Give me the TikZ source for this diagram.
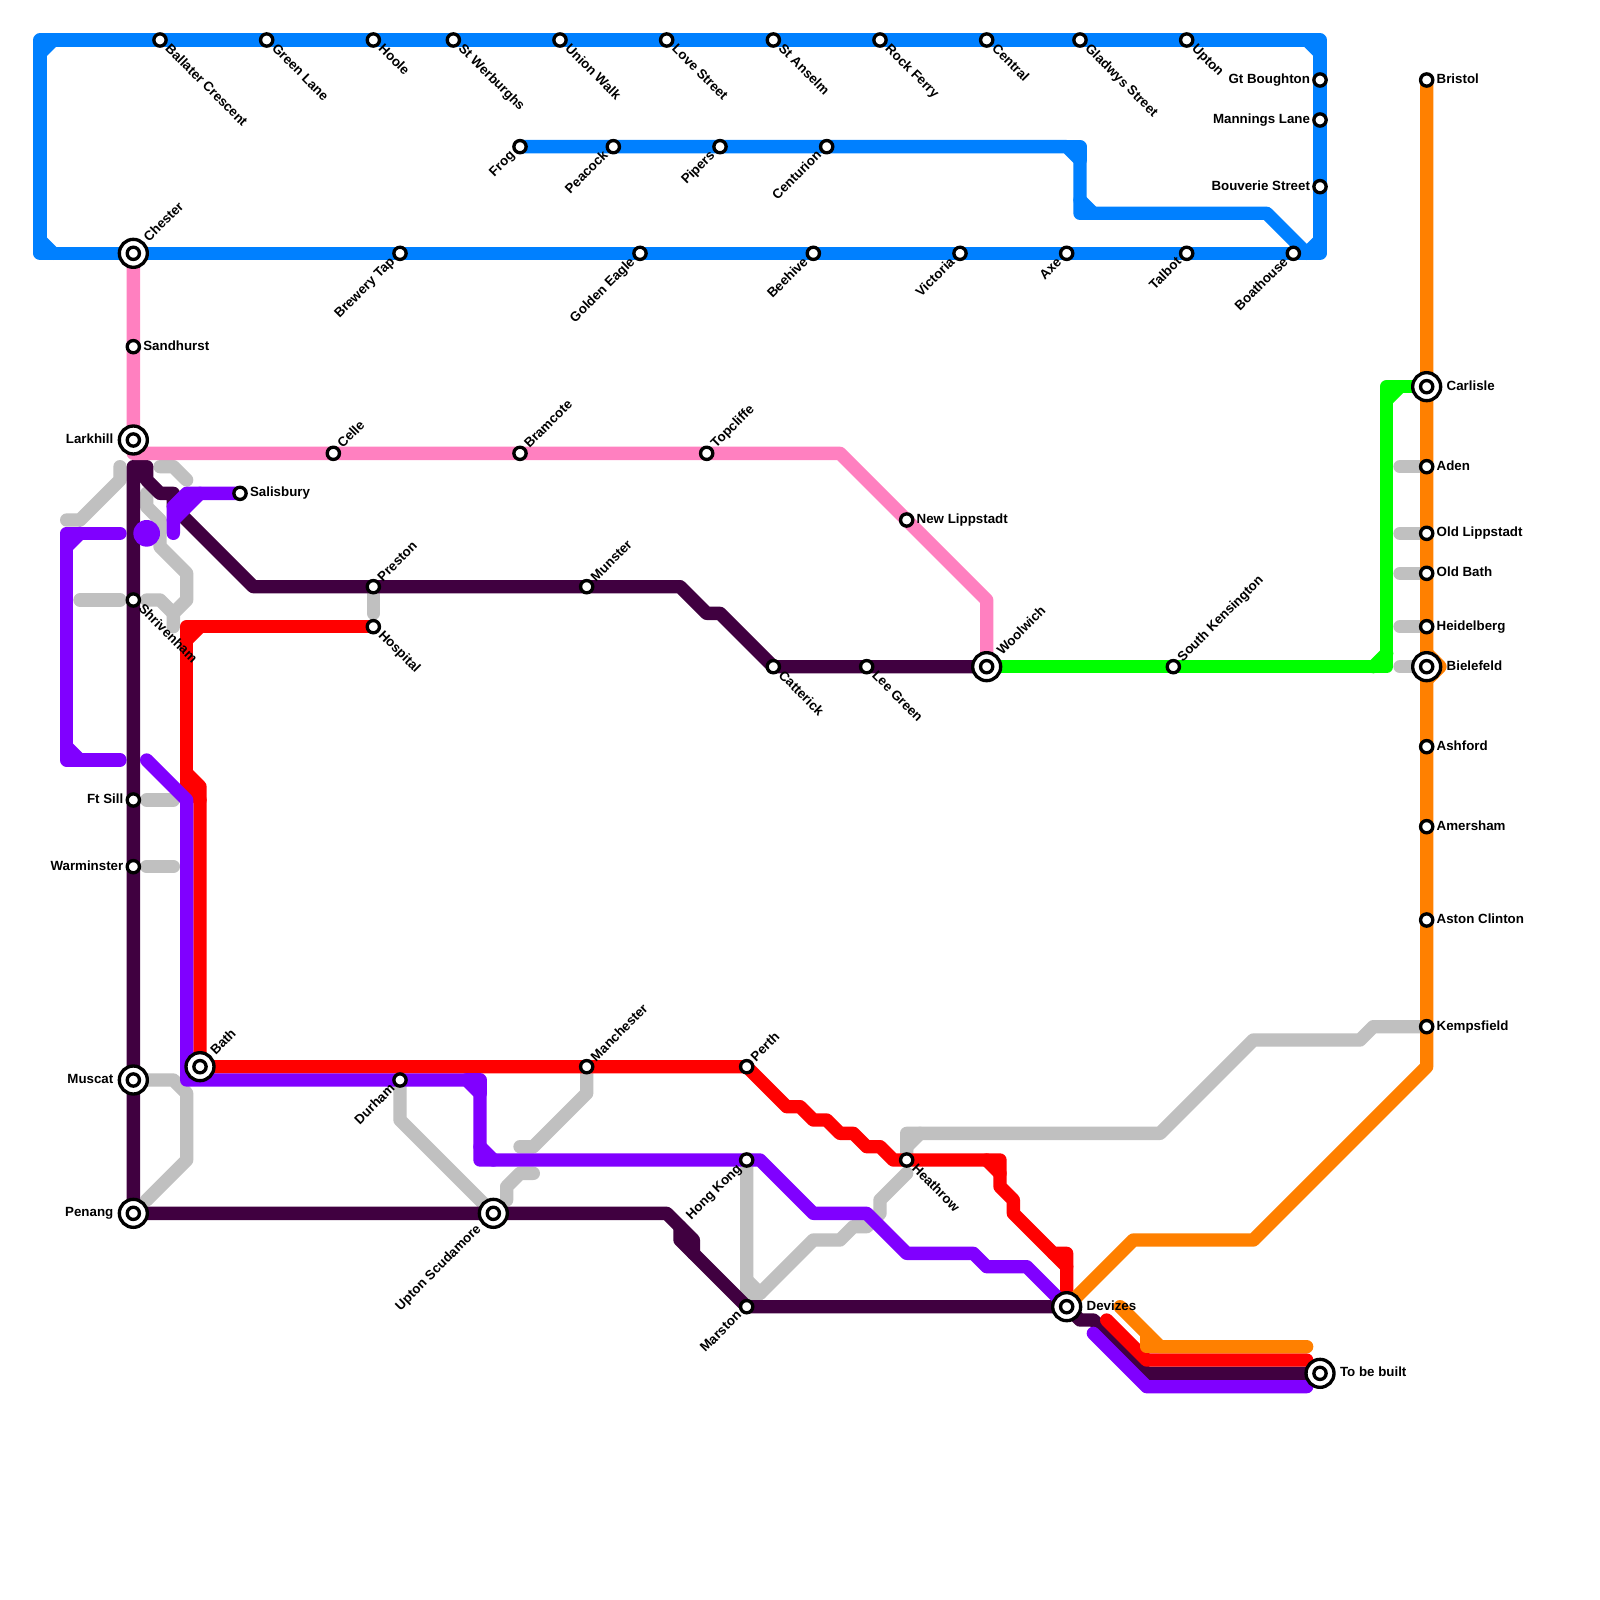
\documentclass[tikz,border=0pt]{standalone}
\usepackage{fontspec}
\setmainfont{Liberation Sans}
\usetikzlibrary{calc}
\definecolor{cblue}{HTML}{0080FF}
\definecolor{cpink}{HTML}{FF80C0}
\definecolor{cpurple}{HTML}{8000FF}
\definecolor{cdark}{HTML}{400040}
\definecolor{cred}{HTML}{FF0000}
\definecolor{cgreen}{HTML}{00FF00}
\definecolor{corange}{HTML}{FF8000}
\definecolor{cgrey}{HTML}{C0C0C0}
\tikzset{
  rail/.style={line width=.25cm,line cap=round,line join=round},
  gy/.style={rail,cgrey}, bl/.style={rail,cblue}, pk/.style={rail,cpink},
  pu/.style={rail,cpurple}, dk/.style={rail,cdark}, rd/.style={rail,cred},
  gn/.style={rail,cgreen}, og/.style={rail,corange},
  stop/.style={circle,draw=black,fill=white,line width=.0625cm,inner sep=0pt,outer sep=0pt,minimum size=.23cm},
  bigstop/.style={circle,draw=black,fill=white,line width=.0625cm,inner sep=0pt,outer sep=0pt,minimum size=.525cm},
  lbl/.style={inner sep=0pt,outer sep=0pt,text=black,font=\fontsize{7.11}{8}\selectfont\bfseries,text height=.72em,text depth=.35em}
}
\newcommand{\lE}[3][.75]{\node[lbl,anchor=west] (L#2) at ($(#2)+(#1,0)$) {#3};}
\newcommand{\lW}[3][.75]{\node[lbl,anchor=east] (L#2) at ($(#2)-(#1,0)$) {#3};}
\newcommand{\lNE}[3][.53]{\node[lbl,anchor=west,rotate=45] (L#2) at ($(#2)+(#1,-#1)$) {#3};}
\newcommand{\lSE}[3][.53]{\node[lbl,anchor=west,rotate=-45] (L#2) at ($(#2)+(#1,#1)$) {#3};}
\newcommand{\lSW}[3][.53]{\node[lbl,anchor=east,rotate=45] (L#2) at ($(#2)+(-#1,#1)$) {#3};}
\begin{document}
\begin{tikzpicture}[x=.25cm,y=-.25cm]
\fill[white] (0,0) rectangle (120,120);
\useasboundingbox (0,0) rectangle (120,120);
% station positions
\foreach \n/\x/\y in {
 ballater/12/3,greenlane/20/3,hoole/28/3,werburghs/34/3,unionwalk/42/3,lovestreet/50/3,anselm/58/3,rockferry/66/3,central/74/3,gladwys/81/3,upton/89/3,
 gtboughton/99/6,mannings/99/9,bouverie/99/14,
 frog/39/11,peacock/46/11,pipers/54/11,centurion/62/11,
 chester/10/19,brewerytap/30/19,goldeneagle/48/19,beehive/61/19,victoria/72/19,axe/80/19,talbot/89/19,boathouse/97/19,
 sandhurst/10/26,larkhill/10/33,celle/25/34,bramcote/39/34,topcliffe/53/34,newlippstadt/68/39,salisbury/18/37,
 preston/28/44,munster/44/44,hospital/28/47,shrivenham/10/45,catterick/58/50,leegreen/65/50,woolwich/74/50,southken/88/50,
 ftsill/10/60,warminster/10/65,muscat/10/81,penang/10/91,bath/15/80,durham/30/81,manchester/44/80,perth/56/80,
 hongkong/56/87,marston/56/98,heathrow/68/87,uptonscud/37/91,devizes/80/98,tobebuilt/99/103,
 bristol/107/6,carlisle/107/29,aden/107/35,oldlipp/107/40,oldbath/107/43,heidelberg/107/47,bielefeld/107/50,ashford/107/56,amersham/107/62,astonclinton/107/69,kempsfield/107/77}
 {\coordinate (\n) at (\x,\y);}
% grey
\draw[gy] (5,39)--(6,39)--(9,36)--(9,35);
\draw[gy] (12,35)--(13,35)--(14,36);
\draw[gy] (11,37)--(11,38)--(12,39)--(12,41)--(14,43)--(14,45)--(13,46)--(13,47);
\draw[gy] (6,45)--(9,45);
\draw[gy] (11,45)--(12,45)--(13,46);
\draw[gy] (11,60)--(13,60);
\draw[gy] (11,65)--(13,65);
\draw[gy] (preston)--(28,46);
\draw[gy] (11,81)--(13,81)--(14,82)--(14,87)--(11,90);
\draw[gy] (durham)--(30,84)--(uptonscud);
\draw[gy] (38,90)--(38,89)--(39,88)--(40,88);
\draw[gy] (manchester)--(44,82)--(40,86)--(39,86);
\draw[gy] (hongkong)--(56,97)--(57,97)--(61,93)--(63,93)--(64,92)--(65,92)--(66,91)--(66,90)--(68,88);
\draw[gy] (56,96)--(57,97);
\draw[gy] (heathrow)--(68,85)--(87,85)--(94,78)--(102,78)--(103,77)--(kempsfield);
\draw[gy] (68,86)--(69,85);
\draw[gy] (aden)--(105,35);
\draw[gy] (oldlipp)--(105,40);
\draw[gy] (oldbath)--(105,43);
\draw[gy] (heidelberg)--(105,47);
\draw[gy] (bielefeld)--(105,50);
% dark
\draw[dk] (penang)--(10,35)--(11,35)--(11,36)--(12,37)--(13,37)--(13,38)--(19,44)--(51,44)--(53,46)--(54,46)--(catterick)--(woolwich);
\draw[dk] (penang)--(50,91)--(52,93)--(52,94);
\draw[dk] (51,92)--(51,93)--(marston)--(devizes)--(81,99)--(82,99)--(86,103)--(tobebuilt);
% red
\draw[rd] (hospital)--(14,47)--(14,59);
\draw[rd] (14,48)--(15,47);
\draw[rd] (14,58)--(15,59)--(bath);
\draw[rd] (14,59)--(15,60);
\draw[rd] (bath)--(perth)--(59,83)--(60,83)--(61,84)--(62,84)--(63,85)--(64,85)--(65,86)--(66,86)--(67,87)--(75,87)--(75,89)--(76,90)--(76,91)--(79,94)--(80,94)--(devizes);
\draw[rd] (74,87)--(75,88);
\draw[rd] (79,94)--(80,95);
\draw[rd] (83,99)--(86,102)--(98,102);
% purple
\draw[pu] (9,40)--(5,40)--(5,57)--(9,57);
\draw[pu] (6,40)--(5,41);
\draw[pu] (5,56)--(6,57);
\fill[cpurple] (11,40) circle (1);
\draw[pu] (salisbury)--(14,37)--(13,38)--(13,40);
\draw[pu] (15,37)--(13,39);
\draw[pu] (11,57)--(14,60)--(14,81)--(35,81)--(36,82)--(36,87)--(57,87)--(61,91)--(65,91)--(68,94)--(73,94)--(74,95)--(77,95)--(devizes);
\draw[pu] (35,81)--(36,81)--(36,82);
\draw[pu] (36,86)--(37,87);
\draw[pu] (82,100)--(86,104)--(98,104);
% blue
\draw[bl] (3,3)--(99,3)--(99,19)--(3,19)--cycle;
\draw[bl] (4,3)--(3,4);
\draw[bl] (3,18)--(4,19);
\draw[bl] (98,3)--(99,4);
\draw[bl] (99,18)--(98,19);
\draw[bl] (frog)--(80,11)--(81,12)--(81,16)--(95,16)--(98,19);
\draw[bl] (80,11)--(81,11)--(81,12);
\draw[bl] (81,15)--(82,16);
% pink
\draw[pk] (chester)--(larkhill)--(10,34)--(63,34)--(74,45)--(woolwich);
% green
\draw[gn] (woolwich)--(104,50)--(104,29)--(carlisle);
\draw[gn] (103,50)--(104,49);
\draw[gn] (104,30)--(105,29);
% orange
\draw[og] (bristol)--(107,80)--(94,93)--(85,93)--(devizes);
\draw[og] (107,49)--(108,50)--(107,51);
\draw[og] (84,98)--(87,101)--(98,101);
\draw[og] (86,100)--(86,101)--(87,101);
% stations
\foreach \n in {chester,larkhill,woolwich,carlisle,bielefeld,muscat,penang,bath,uptonscud,devizes,tobebuilt}
  {\node[bigstop] (B\n) at (\n) {};}
\foreach \n in {ballater,greenlane,hoole,werburghs,unionwalk,lovestreet,anselm,rockferry,central,gladwys,upton,
 gtboughton,mannings,bouverie,frog,peacock,pipers,centurion,chester,brewerytap,goldeneagle,beehive,victoria,axe,talbot,boathouse,
 sandhurst,larkhill,celle,bramcote,topcliffe,newlippstadt,salisbury,preston,munster,hospital,shrivenham,catterick,leegreen,woolwich,southken,
 ftsill,warminster,muscat,penang,bath,durham,manchester,perth,hongkong,marston,heathrow,uptonscud,devizes,tobebuilt,
 bristol,carlisle,aden,oldlipp,oldbath,heidelberg,bielefeld,ashford,amersham,astonclinton,kempsfield}
  {\node[stop] (S\n) at (\n) {};}
% labels
\lSE{ballater}{Ballater Crescent}
\lSE{greenlane}{Green Lane}
\lSE{hoole}{Hoole}
\lSE{werburghs}{St Werburghs}
\lSE{unionwalk}{Union Walk}
\lSE{lovestreet}{Love Street}
\lSE{anselm}{St Anselm}
\lSE{rockferry}{Rock Ferry}
\lSE{central}{Central}
\lSE{gladwys}{Gladwys Street}
\lSE{upton}{Upton}
\lW{gtboughton}{Gt Boughton}
\lW{mannings}{Mannings Lane}
\lW{bouverie}{Bouverie Street}
\lSW{frog}{Frog}
\lSW{peacock}{Peacock}
\lSW{pipers}{Pipers}
\lSW{centurion}{Centurion}
\lNE[1.0]{chester}{Chester}
\lSW{brewerytap}{Brewery Tap}
\lSW{goldeneagle}{Golden Eagle}
\lSW{beehive}{Beehive}
\lSW{victoria}{Victoria}
\lSW{axe}{Axe}
\lSW{talbot}{Talbot}
\lSW{boathouse}{Boathouse}
\lE{sandhurst}{Sandhurst}
\lW[1.5]{larkhill}{Larkhill}
\lNE{celle}{Celle}
\lNE{bramcote}{Bramcote}
\lNE{topcliffe}{Topcliffe}
\lE{newlippstadt}{New Lippstadt}
\lE{salisbury}{Salisbury}
\lNE{preston}{Preston}
\lNE{munster}{Munster}
\lSE{hospital}{Hospital}
\lSE{shrivenham}{Shrivenham}
\lSE{catterick}{Catterick}
\lSE{leegreen}{Lee Green}
\lNE[1.0]{woolwich}{Woolwich}
\lNE{southken}{South Kensington}
\lW{ftsill}{Ft Sill}
\lW{warminster}{Warminster}
\lW[1.5]{muscat}{Muscat}
\lW[1.5]{penang}{Penang}
\lNE[1.0]{bath}{Bath}
\lSW{durham}{Durham}
\lNE{manchester}{Manchester}
\lNE{perth}{Perth}
\lSW{hongkong}{Hong Kong}
\lSW{marston}{Marston}
\lSE{heathrow}{Heathrow}
\lSW[1.06]{uptonscud}{Upton Scudamore}
\lE[1.5]{devizes}{Devizes}
\lE[1.5]{tobebuilt}{To be built}
\lE{bristol}{Bristol}
\lE[1.5]{carlisle}{Carlisle}
\lE{aden}{Aden}
\lE{oldlipp}{Old Lippstadt}
\lE{oldbath}{Old Bath}
\lE{heidelberg}{Heidelberg}
\lE[1.5]{bielefeld}{Bielefeld}
\lE{ashford}{Ashford}
\lE{amersham}{Amersham}
\lE{astonclinton}{Aston Clinton}
\lE{kempsfield}{Kempsfield}
\end{tikzpicture}
\end{document}
